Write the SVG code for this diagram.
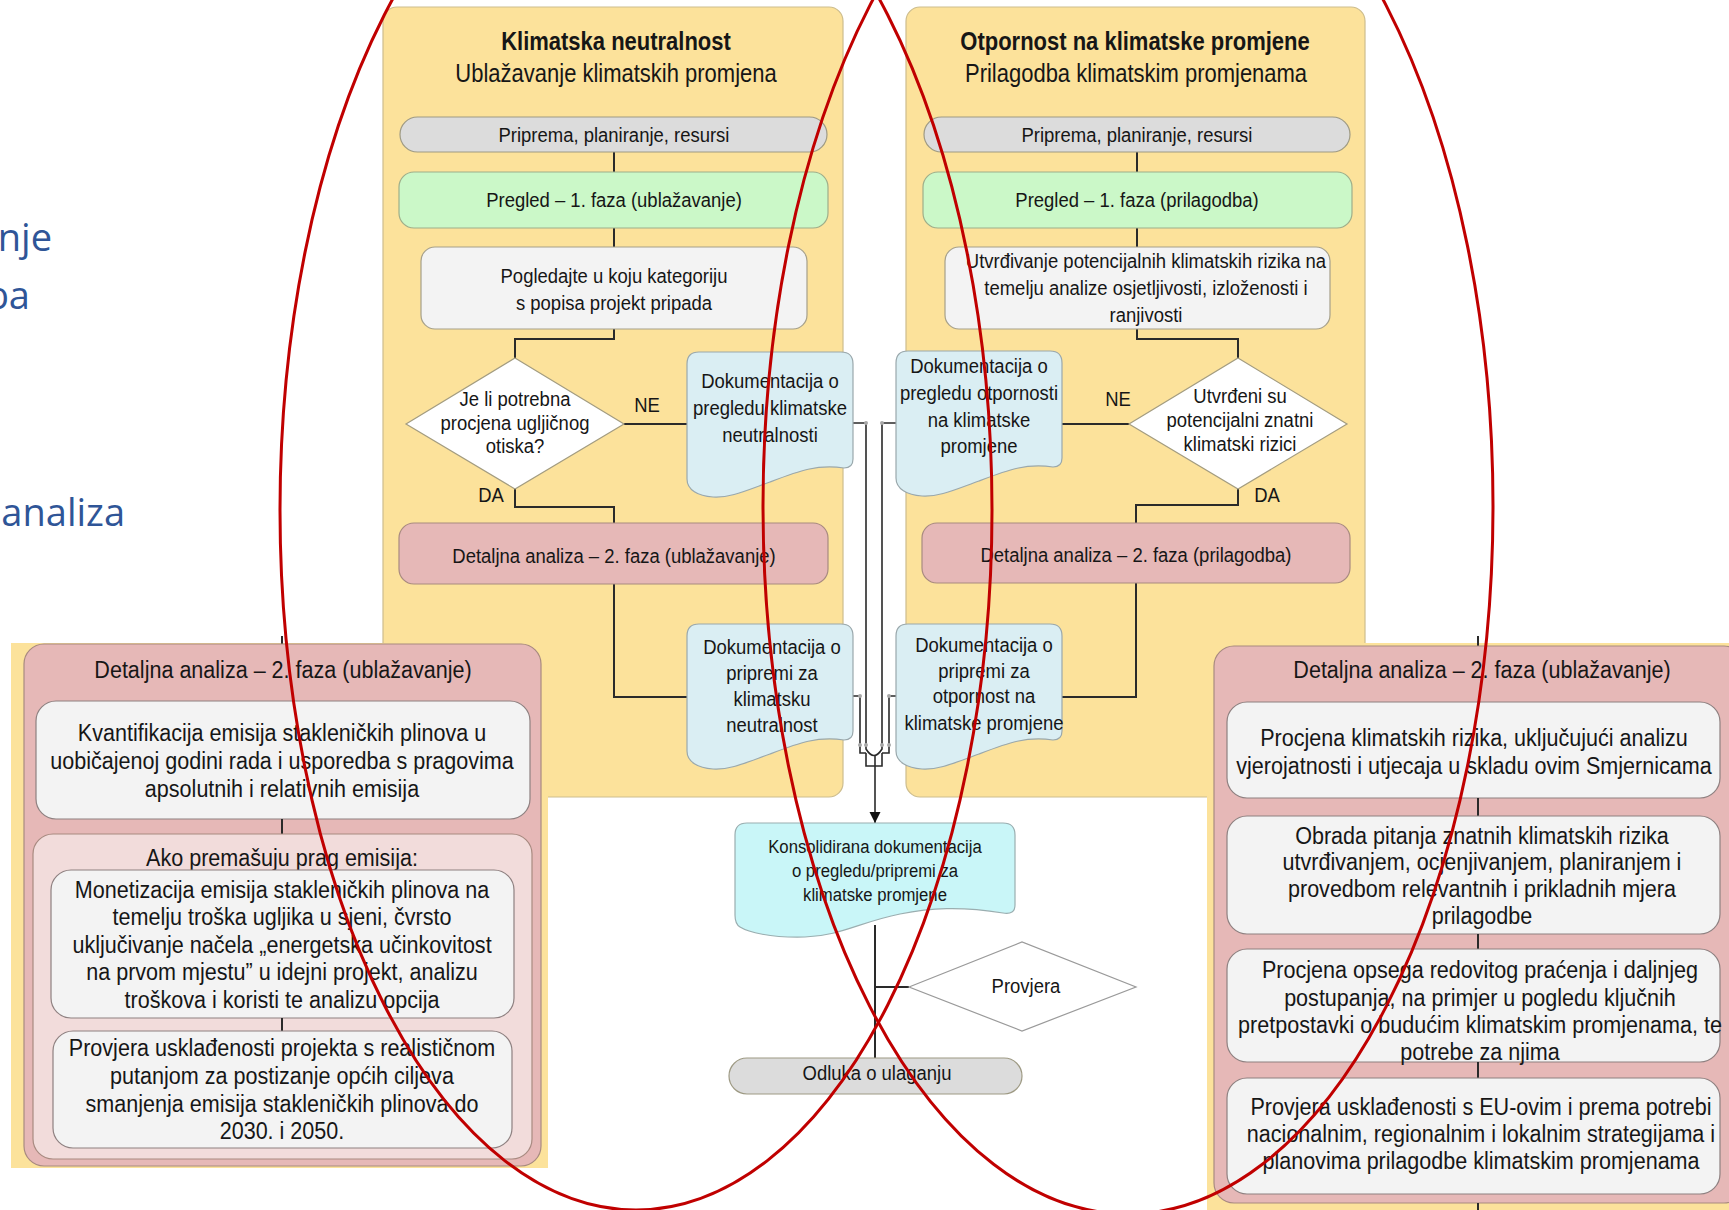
<svg xmlns="http://www.w3.org/2000/svg" width="1729" height="1210" viewBox="0 0 1729 1210">
  <defs>
    <style>
      .t { font-family: "Liberation Sans", Arial, sans-serif; fill: #161616; text-anchor: middle;
           transform-box: fill-box; transform-origin: center; transform: scaleX(0.88); }
      .s19 { font-size: 19px; }
      .s21 { font-size: 21px; }
      .s24 { font-size: 24.5px; }
      .s25 { font-size: 25px; }
      .b { font-weight: bold; }
      .slide { font-family: "Open Sans", "Noto Sans", sans-serif; font-size: 38px; fill: #2F5597; text-anchor: end; }
      .panel { fill: #FCE29B; stroke: #CDBD8E; stroke-width: 1.2; }
      .grey { fill: #DCDCDC; stroke: #9E9A84; stroke-width: 1.2; }
      .green { fill: #CBF8C8; stroke: #9EAE8A; stroke-width: 1.2; }
      .light { fill: #F3F3F3; stroke: #A6A08A; stroke-width: 1.2; }
      .pink { fill: #E6B8B7; stroke: #A88A80; stroke-width: 1.2; }
      .pale { fill: #F2DCDB; stroke: #A88A80; stroke-width: 1.2; }
      .box { fill: #F3F3F3; stroke: #8E8080; stroke-width: 1.2; }
      .doc { fill: #DAEEF3; stroke: #9AA8AC; stroke-width: 1.2; }
      .cyan { fill: #C9F6F8; stroke: #9AAEB0; stroke-width: 1.2; }
      .dia { fill: #FFFFFF; stroke: #A39C80; stroke-width: 1.2; }
      .yel { fill: #FCE29B; }
      .ln { fill: none; stroke: #2A2A2A; stroke-width: 2; }
      .thin { fill: none; stroke: #2A2A2A; stroke-width: 1.6; }
      .dot { fill: #A8A8A8; }
      .ring { fill: none; stroke: #C00000; stroke-width: 3; }
    </style>
    <marker id="arrow" markerUnits="userSpaceOnUse" markerWidth="12" markerHeight="12" refX="11" refY="5.5" orient="auto">
      <path d="M0,0 L11,5.5 L0,11 Z" fill="#111"/>
    </marker>
    <!-- document shape with wavy bottom edge, 166 wide -->
    <path id="docShape" d="M0,12 Q0,0 12,0 H154 Q166,0 166,12 V107 Q166,116 157,116 C130,112 112,119 83,130 C58,139 43,146 26,145 C11,144 0,138 0,127 Z"/>
  </defs>

  <rect width="1729" height="1210" fill="#FFFFFF"/>

  <!-- cut-off slide headings at the left edge -->
  <g id="slide-text">
    <text class="slide" x="52" y="251">nje</text>
    <text class="slide" x="30" y="309">ba</text>
    <text class="slide" x="125" y="526">analiza</text>
  </g>

  <!-- swimlane panels -->
  <g id="panel-mitigation">
    <rect class="panel" x="383" y="7" width="460" height="790" rx="14"/>
    <text class="t s25 b" x="616" y="50">Klimatska neutralnost</text>
    <text class="t s25" x="616" y="82">Ublažavanje klimatskih promjena</text>
  </g>
  <g id="panel-adaptation">
    <rect class="panel" x="906" y="7" width="459" height="790" rx="14"/>
    <text class="t s25 b" x="1135" y="50">Otpornost na klimatske promjene</text>
    <text class="t s25" x="1136" y="82">Prilagodba klimatskim promjenama</text>
  </g>

  <!-- connectors -->
  <g id="connectors">
    <path class="ln" d="M614,152 V172"/>
    <path class="ln" d="M614,228 V247"/>
    <path class="ln" d="M614,329 V339 H515 V358"/>
    <path class="ln" d="M624,424 H687"/>
    <path class="ln" d="M515,489 V507 H614 V523"/>
    <path class="ln" d="M614,584 V697 H687"/>

    <path class="ln" d="M1137,152 V172"/>
    <path class="ln" d="M1137,228 V247"/>
    <path class="ln" d="M1137,329 V339 H1238 V358"/>
    <path class="ln" d="M1129,424 H1062"/>
    <path class="ln" d="M1238,489 V505 H1136 V523"/>
    <path class="ln" d="M1136,583 V697 H1062"/>

    <!-- bundle of document outputs merging into the consolidated file -->
    <path class="thin" d="M853,423 H866 V745"/>
    <path class="thin" d="M896,423 H882 V745"/>
    <path class="thin" d="M853,696 H860 V745"/>
    <path class="thin" d="M896,696 H889 V745"/>
    <path class="thin" d="M860,745 V753 H866 M889,745 V753 H882 M866,745 V749 Q874,762 882,749 V745 M866,753 V766 H882 V753"/>
    <path class="thin" d="M875,756 V823" marker-end="url(#arrow)"/>
    <circle class="dot" cx="866" cy="423" r="2"/>
    <circle class="dot" cx="882" cy="423" r="2"/>
    <circle class="dot" cx="860" cy="696" r="2"/>
    <circle class="dot" cx="889" cy="696" r="2"/>
    <circle class="dot" cx="860" cy="745" r="2"/>
    <circle class="dot" cx="866" cy="745" r="2"/>
    <circle class="dot" cx="882" cy="745" r="2"/>
    <circle class="dot" cx="889" cy="745" r="2"/>

    <path class="ln" d="M875,925 V1058"/>
    <path class="ln" d="M875,987 H909"/>
  </g>

  <!-- mitigation lane -->
  <g id="prep-left">
    <rect class="grey" x="400" y="117" width="427" height="35" rx="17.5"/>
    <text class="t s21" x="614" y="142">Priprema, planiranje, resursi</text>
  </g>
  <g id="screening-left">
    <rect class="green" x="399" y="172" width="429" height="56" rx="15"/>
    <text class="t s21" x="614" y="207">Pregled – 1. faza (ublažavanje)</text>
  </g>
  <g id="category-left">
    <rect class="light" x="421" y="247" width="386" height="82" rx="14"/>
    <text class="t s21"><tspan x="614" y="283">Pogledajte u koju kategoriju</tspan><tspan x="614" y="310">s popisa projekt pripada</tspan></text>
  </g>
  <g id="decision-left">
    <polygon class="dia" points="515,358 624,424 515,489 406,424"/>
    <text class="t s21"><tspan x="515" y="406">Je li potrebna</tspan><tspan x="515" y="430">procjena ugljičnog</tspan><tspan x="515" y="453">otiska?</tspan></text>
    <text class="t s21" x="647" y="412">NE</text>
    <text class="t s21" x="491" y="502">DA</text>
  </g>
  <g id="doc-screening-left">
    <use href="#docShape" class="doc" x="687" y="352"/>
    <text class="t s21"><tspan x="770" y="388">Dokumentacija o</tspan><tspan x="770" y="415">pregledu klimatske</tspan><tspan x="770" y="442">neutralnosti</tspan></text>
  </g>
  <g id="detail-left">
    <rect class="pink" x="399" y="523" width="429" height="61" rx="15"/>
    <text class="t s21" x="614" y="563">Detaljna analiza – 2. faza (ublažavanje)</text>
  </g>
  <g id="doc-proofing-left">
    <use href="#docShape" class="doc" x="687" y="624"/>
    <text class="t s21"><tspan x="772" y="654">Dokumentacija o</tspan><tspan x="772" y="680">pripremi za</tspan><tspan x="772" y="706">klimatsku</tspan><tspan x="772" y="732">neutralnost</tspan></text>
  </g>

  <!-- adaptation lane -->
  <g id="prep-right">
    <rect class="grey" x="924" y="117" width="426" height="35" rx="17.5"/>
    <text class="t s21" x="1137" y="142">Priprema, planiranje, resursi</text>
  </g>
  <g id="screening-right">
    <rect class="green" x="923" y="172" width="429" height="56" rx="15"/>
    <text class="t s21" x="1137" y="207">Pregled – 1. faza (prilagodba)</text>
  </g>
  <g id="risk-right">
    <rect class="light" x="945" y="247" width="385" height="82" rx="14"/>
    <text class="t s21"><tspan x="1146" y="268">Utvrđivanje potencijalnih klimatskih rizika na</tspan><tspan x="1146" y="295">temelju analize osjetljivosti, izloženosti i</tspan><tspan x="1146" y="322">ranjivosti</tspan></text>
  </g>
  <g id="decision-right">
    <polygon class="dia" points="1238,358 1347,424 1238,489 1129,424"/>
    <text class="t s21"><tspan x="1240" y="403">Utvrđeni su</tspan><tspan x="1240" y="427">potencijalni znatni</tspan><tspan x="1240" y="451">klimatski rizici</tspan></text>
    <text class="t s21" x="1118" y="406">NE</text>
    <text class="t s21" x="1267" y="502">DA</text>
  </g>
  <g id="doc-screening-right">
    <use href="#docShape" class="doc" x="896" y="351"/>
    <text class="t s21"><tspan x="979" y="373">Dokumentacija o</tspan><tspan x="979" y="400">pregledu otpornosti</tspan><tspan x="979" y="427">na klimatske</tspan><tspan x="979" y="453">promjene</tspan></text>
  </g>
  <g id="detail-right">
    <rect class="pink" x="922" y="523" width="428" height="60" rx="15"/>
    <text class="t s21" x="1136" y="562">Detaljna analiza – 2. faza (prilagodba)</text>
  </g>
  <g id="doc-proofing-right">
    <use href="#docShape" class="doc" x="896" y="624"/>
    <text class="t s21"><tspan x="984" y="652">Dokumentacija o</tspan><tspan x="984" y="678">pripremi za</tspan><tspan x="984" y="703">otpornost na</tspan><tspan x="984" y="730">klimatske promjene</tspan></text>
  </g>

  <!-- shared steps -->
  <g id="consolidated">
    <path class="cyan" d="M735,835 Q735,823 747,823 H1003 Q1015,823 1015,835 V905 Q1015,915 1003,913 C960,906 930,908 900,914 C860,922 840,936 805,937 C770,938 748,932 740,927 Q735,924 735,915 Z"/>
    <text class="t s19"><tspan x="875" y="853">Konsolidirana dokumentacija</tspan><tspan x="875" y="877">o pregledu/pripremi za</tspan><tspan x="875" y="901">klimatske promjene</tspan></text>
  </g>
  <g id="check">
    <polygon class="dia" points="909,987 1022,942 1136,987 1022,1031" style="stroke:#9A9A9A"/>
    <text class="t s21" x="1026" y="993">Provjera</text>
  </g>
  <g id="decision">
    <rect class="grey" x="729" y="1058" width="293" height="36" rx="18"/>
    <text class="t s21" x="877" y="1080">Odluka o ulaganju</text>
  </g>

  <!-- detailed analysis, mitigation -->
  <g id="detail-mitigation">
    <rect class="yel" x="11" y="643" width="537" height="525"/>
    <path class="ln" d="M282,636 V644"/>
    <rect class="pink" x="24" y="644" width="517" height="522" rx="20"/>
    <text class="t s24" x="283" y="678">Detaljna analiza – 2. faza (ublažavanje)</text>
    <rect class="box" x="36" y="701" width="494" height="118" rx="20"/>
    <text class="t s24"><tspan x="282" y="741">Kvantifikacija emisija stakleničkih plinova u</tspan><tspan x="282" y="769">uobičajenoj godini rada i usporedba s pragovima</tspan><tspan x="282" y="797">apsolutnih i relativnih emisija</tspan></text>
    <path class="ln" d="M282,819 V834"/>
    <rect class="pale" x="33" y="834" width="499" height="325" rx="20"/>
    <text class="t s24" x="282" y="866">Ako premašuju prag emisija:</text>
    <rect class="box" x="51" y="870" width="463" height="148" rx="20"/>
    <text class="t s24"><tspan x="282" y="898">Monetizacija emisija stakleničkih plinova na</tspan><tspan x="282" y="925.5">temelju troška ugljika u sjeni, čvrsto</tspan><tspan x="282" y="953">uključivanje načela „energetska učinkovitost</tspan><tspan x="282" y="980.5">na prvom mjestu” u idejni projekt, analizu</tspan><tspan x="282" y="1008">troškova i koristi te analizu opcija</tspan></text>
    <path class="ln" d="M282,1018 V1031"/>
    <rect class="box" x="53" y="1031" width="459" height="117" rx="20"/>
    <text class="t s24"><tspan x="282" y="1056">Provjera usklađenosti projekta s realističnom</tspan><tspan x="282" y="1084">putanjom za postizanje općih ciljeva</tspan><tspan x="282" y="1112">smanjenja emisija stakleničkih plinova do</tspan><tspan x="282" y="1139">2030. i 2050.</tspan></text>
  </g>

  <!-- detailed analysis, adaptation -->
  <g id="detail-adaptation">
    <rect class="yel" x="1207" y="643" width="530" height="570"/>
    <path class="ln" d="M1478,636 V646"/>
    <rect class="pink" x="1214" y="646" width="530" height="557" rx="20"/>
    <text class="t s24" x="1482" y="678">Detaljna analiza – 2. faza (ublažavanje)</text>
    <rect class="box" x="1227" y="702" width="493" height="96" rx="20"/>
    <text class="t s24"><tspan x="1474" y="746">Procjena klimatskih rizika, uključujući analizu</tspan><tspan x="1474" y="774">vjerojatnosti i utjecaja u skladu ovim Smjernicama</tspan></text>
    <path class="ln" d="M1478,798 V816"/>
    <rect class="box" x="1227" y="816" width="493" height="118" rx="20"/>
    <text class="t s24"><tspan x="1482" y="844">Obrada pitanja znatnih klimatskih rizika</tspan><tspan x="1482" y="870">utvrđivanjem, ocjenjivanjem, planiranjem i</tspan><tspan x="1482" y="897">provedbom relevantnih i prikladnih mjera</tspan><tspan x="1482" y="924">prilagodbe</tspan></text>
    <path class="ln" d="M1478,934 V949"/>
    <rect class="box" x="1227" y="949" width="493" height="113" rx="20"/>
    <text class="t s24"><tspan x="1480" y="978">Procjena opsega redovitog praćenja i daljnjeg</tspan><tspan x="1480" y="1006">postupanja, na primjer u pogledu ključnih</tspan><tspan x="1480" y="1033">pretpostavki o budućim klimatskim promjenama, te</tspan><tspan x="1480" y="1060">potrebe za njima</tspan></text>
    <path class="ln" d="M1478,1062 V1078"/>
    <rect class="box" x="1227" y="1078" width="493" height="116" rx="20"/>
    <text class="t s24"><tspan x="1481" y="1115">Provjera usklađenosti s EU-ovim i prema potrebi</tspan><tspan x="1481" y="1142">nacionalnim, regionalnim i lokalnim strategijama i</tspan><tspan x="1481" y="1169">planovima prilagodbe klimatskim promjenama</tspan></text>
    <path class="ln" d="M1478,1203 V1210"/>
  </g>

  <!-- red highlight rings over both lanes -->
  <g id="highlight-rings">
    <ellipse class="ring" cx="636" cy="510" rx="356" ry="700"/>
    <ellipse class="ring" cx="1128" cy="506" rx="365" ry="708"/>
  </g>
</svg>
